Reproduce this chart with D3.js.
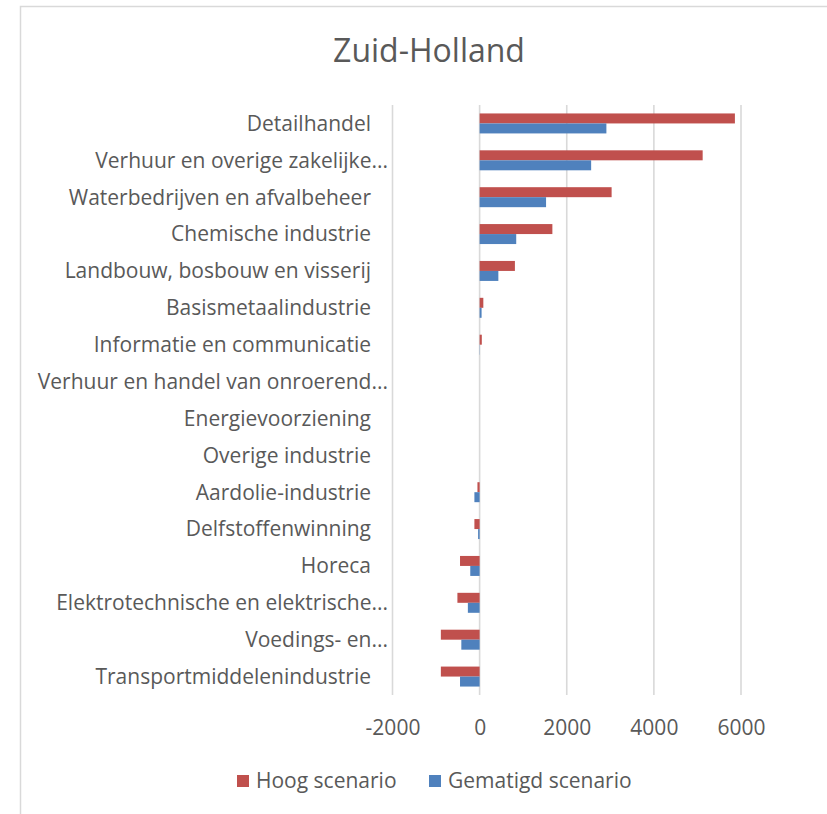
<!DOCTYPE html>
<html>
<head>
<meta charset="utf-8">
<script src="https://cdn.jsdelivr.net/npm/d3@7"></script>
<style>
  body { margin: 0; background: #fff; }
  svg text { font-family: "Open Sans", sans-serif; fill: #595959; }
</style>
</head>
<body>
<svg id="chart" width="827" height="814"></svg>
<script>
// sectors, top to bottom
const categories = [
  "Detailhandel",
  "Verhuur en overige zakelijke...",
  "Waterbedrijven en afvalbeheer",
  "Chemische industrie",
  "Landbouw, bosbouw en visserij",
  "Basismetaalindustrie",
  "Informatie en communicatie",
  "Verhuur en handel van onroerend...",
  "Energievoorziening",
  "Overige industrie",
  "Aardolie-industrie",
  "Delfstoffenwinning",
  "Horeca",
  "Elektrotechnische en elektrische...",
  "Voedings- en...",
  "Transportmiddelenindustrie"
];
const hoog = [5860, 5120, 3030, 1670, 810, 85, 50, 0, 0, 0, -50, -120, -450, -510, -890, -890];
const gematigd = [2910, 2560, 1525, 840, 430, 45, 5, 0, 0, 0, -120, -35, -215, -270, -420, -450];
const seriesNames = ["Hoog scenario", "Gematigd scenario"];
const colors = ["#C0504D", "#4F81BD"];
const xTicks = [-2000, 0, 2000, 4000, 6000];

const svg = d3.select("#chart");

// chart frame (only top and left edges fall inside the picture)
svg.append("path")
  .attr("d", "M20.5,830 V6.5 H840")
  .attr("fill", "none")
  .attr("stroke", "#d9d9d9")
  .attr("stroke-width", 1.5);

const x = d3.scaleLinear().domain([-2000, 6000]).range([392.5, 741]);
const y = d3.scaleBand().domain(categories).range([105, 695])
  .paddingInner(0.458).paddingOuter(0.229);
const ySub = d3.scaleBand().domain(seriesNames).range([0, y.bandwidth()]);

// title
svg.append("text")
  .attr("x", 429).attr("y", 62)
  .attr("text-anchor", "middle")
  .style("font-size", "32px")
  .text("Zuid-Holland");

// gridlines
svg.append("g").selectAll("line")
  .data(xTicks)
  .join("line")
    .attr("x1", d => x(d)).attr("x2", d => x(d))
    .attr("y1", 105).attr("y2", 695)
    .attr("stroke", "#d9d9d9")
    .attr("stroke-width", 1.6);

// tick labels
const xAxis = svg.append("g")
  .attr("transform", "translate(0,695)")
  .call(d3.axisBottom(x).tickValues(xTicks).tickFormat(d => String(d)).tickSize(0).tickPadding(25));
xAxis.select(".domain").remove();
xAxis.selectAll("text")
  .attr("fill", null)
  .style("font-size", "21px")
  .style("font-family", "\"Open Sans\", sans-serif");

// category labels
svg.append("g").selectAll("text")
  .data(categories)
  .join("text")
    .attr("x", d => d.endsWith("...") ? 388 : 371)
    .attr("y", d => y(d) + y.bandwidth() / 2)
    .attr("dy", "0.35em")
    .attr("text-anchor", "end")
    .style("font-size", "21px")
    .text(d => d);

// bars
const rows = categories.map((c, i) => ({cat: c, values: [hoog[i], gematigd[i]]}));
const groups = svg.append("g").selectAll("g")
  .data(rows)
  .join("g")
    .attr("transform", d => `translate(0,${y(d.cat)})`);

groups.selectAll("rect")
  .data(d => d.values.map((v, j) => ({series: seriesNames[j], value: v, color: colors[j]})))
  .join("rect")
    .attr("x", d => x(Math.min(0, d.value)))
    .attr("y", d => ySub(d.series))
    .attr("width", d => Math.abs(x(d.value) - x(0)))
    .attr("height", ySub.bandwidth())
    .attr("fill", d => d.color);

// legend
const legend = svg.append("g").attr("transform", "translate(0,781)");
const legendX = [237, 429];
const items = legend.selectAll("g")
  .data(seriesNames)
  .join("g")
    .attr("transform", (d, i) => `translate(${legendX[i]},0)`);
items.append("rect")
  .attr("x", 0).attr("y", -6)
  .attr("width", 12).attr("height", 12)
  .attr("fill", (d, i) => colors[i]);
items.append("text")
  .attr("x", 19).attr("dy", "0.35em")
  .style("font-size", "21px")
  .text(d => d);
</script>
</body>
</html>
